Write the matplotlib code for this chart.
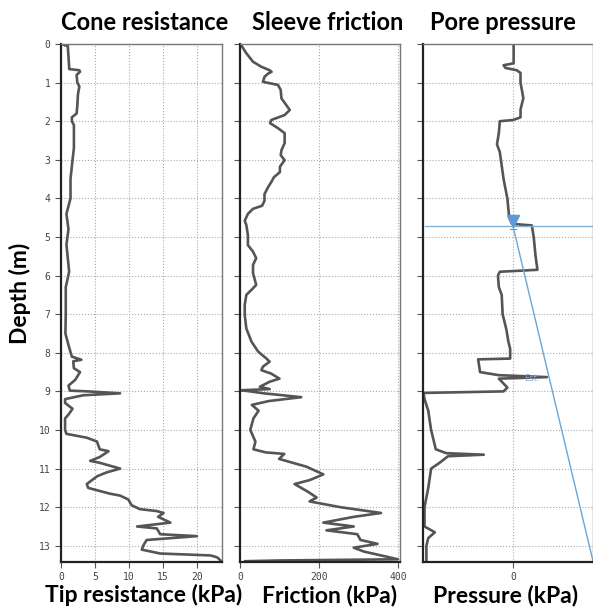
import numpy as np
import matplotlib.pyplot as plt

# cone resistance (tip resistance, kPa) vs depth (m)
depth_qc = [0, 0.03, 0.05, 0.6, 0.65, 0.68, 0.72, 0.8, 1.0, 1.1, 1.3, 1.6, 1.8, 1.9, 2.0, 2.1,
            2.7, 3.0, 3.5, 4.0, 4.4, 4.8, 5.2, 5.9, 6.3, 7.0, 7.5, 7.8, 8.1, 8.18, 8.22, 8.4,
            8.5, 8.7, 8.85, 8.98, 9.0, 9.05, 9.1, 9.2, 9.3, 9.45, 9.6, 9.7, 10.0, 10.1, 10.2,
            10.3, 10.5, 10.55, 10.7, 10.8, 10.85, 11.0, 11.1, 11.2, 11.4, 11.5, 11.65, 11.7,
            11.8, 11.95, 12.05, 12.1, 12.15, 12.25, 12.4, 12.5, 12.55, 12.7, 12.75, 12.85,
            13.0, 13.1, 13.2, 13.25, 13.3, 13.4]
qc = [0.2, 0.5, 1.0, 1.2, 1.2, 2.7, 2.8, 2.3, 2.4, 2.7, 2.5, 2.4, 2.3, 1.6, 1.6, 1.9,
      1.9, 1.7, 1.4, 1.4, 0.8, 1.1, 0.8, 1.2, 0.7, 0.7, 0.65, 1.1, 1.6, 3.0, 1.8, 1.9,
      2.8, 2.1, 1.1, 1.3, 4.0, 8.7, 3.3, 0.6, 0.6, 1.7, 1.1, 0.6, 0.6, 0.8, 3.8,
      5.3, 5.7, 7.0, 5.7, 4.3, 5.7, 8.7, 6.7, 5.3, 3.8, 4.0, 7.2, 8.7,
      9.9, 10.4, 11.6, 14.1, 15.1, 14.3, 16.1, 11.2, 14.1, 14.6, 20.0, 12.6,
      12.1, 11.9, 14.6, 22.0, 23.0, 23.6]

# sleeve friction (kPa)
depth_fs = [0, 0.03, 0.24, 0.46, 0.59, 0.68, 0.72, 0.76, 0.85, 0.98, 1.06, 1.19, 1.41,
            1.58, 1.71, 1.84, 1.97, 2.05, 2.18, 2.31, 2.57, 2.75, 2.88, 3.01, 3.18, 3.32,
            3.45, 3.58, 3.71, 3.89, 4.06, 4.19, 4.27, 4.4, 4.58, 4.69, 4.95, 5.21, 5.38,
            5.55, 5.72, 5.94, 6.24, 6.37, 6.5, 6.76, 7.02, 7.37, 7.71, 7.97, 8.15, 8.23,
            8.36, 8.45, 8.54, 8.67, 8.75, 8.84, 8.88, 8.94, 8.97, 9.02,
            9.05, 9.15, 9.25, 9.35, 9.5, 9.7, 10.0, 10.3, 10.5, 10.58, 10.62, 10.75,
            10.95, 11.15, 11.3, 11.4, 11.6, 11.75, 11.85, 12.0, 12.1, 12.15, 12.25, 12.4,
            12.5, 12.6, 12.7, 12.85, 12.95, 13.05, 13.15, 13.25, 13.35, 13.38, 13.4]
fs = [0, 3, 16, 33, 54, 75, 80, 72, 62, 58, 96, 103, 105,
      117, 126, 113, 79, 76, 96, 113, 113, 105, 103, 113, 101, 101,
      86, 79, 71, 62, 62, 56, 33, 20, 12, 16, 20, 20, 33,
      41, 33, 33, 41, 29, 16, 12, 12, 16, 29, 46, 67, 75,
      58, 54, 79, 100, 75, 58, 50, 75, 4, 40,
      60, 155, 73, 30, 47, 34, 26, 39, 34, 65, 112, 99,
      168, 211, 176, 138, 172, 194, 176, 254, 323, 357, 288, 211,
      288, 219, 297, 305, 348, 288, 314, 357, 400, 100, 13]

# pore pressure (kPa)
depth_u = [0, 0.5, 0.55, 0.62, 0.68, 0.75, 1.0, 1.4, 1.7, 1.9, 1.97, 2.0, 2.3, 2.6, 2.8,
           3.5, 4.0, 4.5, 4.66, 4.7, 5.0, 5.5, 5.85, 5.9, 6.0, 6.3, 6.5, 7.0, 7.4, 7.7,
           7.9, 8.15, 8.17, 8.5, 8.58, 8.63, 8.67, 8.9, 9.0, 9.04, 9.2, 9.5, 10.0, 10.5,
           10.6, 10.64, 10.68, 10.85, 11.0, 11.5, 12.0, 12.5, 12.65, 12.8, 13.0, 13.4]
u2 = [0.7, 0.7, -10, -8, 4, 8, 8, 11, 8, 8, 0, -14, -15, -17, -14,
      -10, -6, -4, -1, 20, 22, 24, 26, -14, -16, -15, -12, -11, -7, -5,
      -3, -3, -37, -35, -15, 36, -15, -6, -10, -95, -94, -90, -87, -82,
      -71, -31, -69, -78, -87, -90, -94, -94, -83, -90, -92, -92]

water_depth = 4.72
hydro_depth = [water_depth, 13.4]
hydro_u = [0, 85]

plt.rcParams['font.family'] = ['Lato', 'DejaVu Sans']

fig = plt.figure(figsize=(5.93, 6.07), dpi=100)
W, H = 593.0, 607.0
bot = 1 - 562 / H
hgt = 518 / H
ax1 = fig.add_axes([61 / W, bot, 161 / W, hgt])
ax2 = fig.add_axes([240 / W, bot, 160 / W, hgt])
ax3 = fig.add_axes([423 / W, bot, 170 / W, hgt])

line_c = '#555555'
ax1.plot(qc, depth_qc, color=line_c, lw=1.9)
ax2.plot(fs, depth_fs, color=line_c, lw=1.9)
ax3.plot(u2, depth_u, color=line_c, lw=1.9)

# water table + hydrostatic line
ax3.axhline(water_depth, xmin=0.01, color='#7fb2dd', lw=1)
ax3.plot(hydro_u, hydro_depth, color='#6aa6d6', lw=1)
ax3.plot([0], [water_depth - 0.13], marker='v', ms=8, color='#5b9bd5', mec='#5b9bd5')
ax3.plot([-3, 3], [water_depth + 0.08, water_depth + 0.08], color='#5b9bd5', lw=0.8)
ax3.text(12, 8.66, 'Est.', fontsize=6, color='#8fa8c8', va='center', family='DejaVu Sans')

ax1.set_xlim(0, 23.7)
ax2.set_xlim(0, 405)
ax3.set_xlim(-95.6, 85)
ax1.set_xticks([0, 5, 10, 15, 20])
ax2.set_xticks([0, 200, 400])
ax3.set_xticks([0])

for ax in (ax1, ax2, ax3):
    ax.set_ylim(13.42, 0)
    ax.set_yticks(range(0, 14))
    ax.grid(True, color='#aaaaaa', ls=':', lw=0.8)
    ax.tick_params(length=4, width=0.8, color='#555555', labelsize=7, labelcolor='#444444')
    for lab in ax.get_xticklabels() + ax.get_yticklabels():
        lab.set_family('DejaVu Sans Mono')
    for s in ('left', 'bottom'):
        ax.spines[s].set_linewidth(1.6)
        ax.spines[s].set_color('#222222')
    for s in ('top', 'right'):
        ax.spines[s].set_linewidth(1.0)
        ax.spines[s].set_color('#777777')
ax2.set_yticklabels([])
ax3.set_yticklabels([])

# titles and labels
tk = dict(fontsize=17, fontweight='bold', ha='center', va='center')
fig.text(145 / W, 1 - 23 / H, 'Cone resistance', **tk)
fig.text(328 / W, 1 - 23 / H, 'Sleeve friction', **tk)
fig.text(503 / W, 1 - 23 / H, 'Pore pressure', **tk)
tk['fontsize'] = 16.5
fig.text(144 / W, 1 - 595 / H, 'Tip resistance (kPa)', **tk)
fig.text(330 / W, 1 - 595 / H, 'Friction (kPa)', **tk)
fig.text(506 / W, 1 - 595 / H, 'Pressure (kPa)', **tk)
fig.text(20 / W, 1 - 293 / H, 'Depth (m)', rotation=90, **tk)

fig.savefig('out.png', dpi=100)
